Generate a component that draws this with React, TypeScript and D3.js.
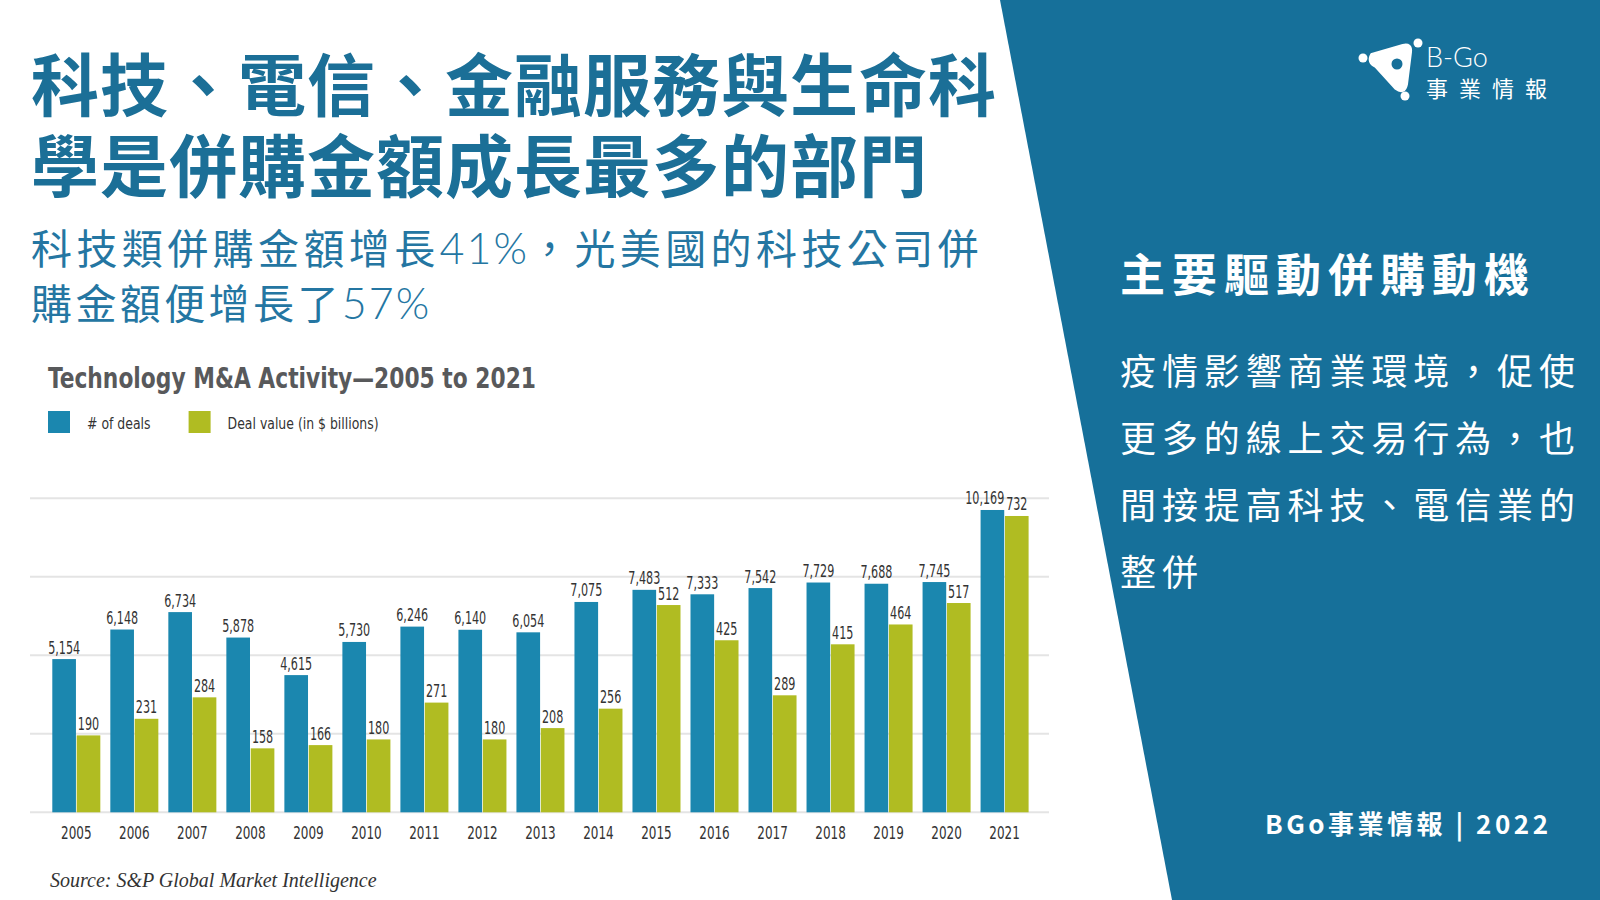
import React from "react";
import * as d3 from "d3";

const years = ["2005","2006","2007","2008","2009","2010","2011","2012","2013","2014","2015","2016","2017","2018","2019","2020","2021"];
const deals = [5154, 6148, 6734, 5878, 4615, 5730, 6246, 6140, 6054, 7075, 7483, 7333, 7542, 7729, 7688, 7745, 10169];
const values = [190, 231, 284, 158, 166, 180, 271, 180, 208, 256, 512, 425, 289, 415, 464, 517, 732];
const seriesKeys = ["deals", "value"];
const seriesNames = ["# of deals", "Deal value (in $ billions)"];
const seriesColors = ["#1b87af", "#b0bc22"];
const gridSteps = [0, 1, 2, 3, 4];

const titleLines = ["科技、電信、金融服務與生命科", "學是併購金額成長最多的部門"];
const subtitleLines = [["科技類併購金額增長", "41%", "，光美國的科技公司併"], ["購金額便增長了", "57%", ""]];
const panelHeading = "主要驅動併購動機";
const panelLines = ["疫情影響商業環境，促使", "更多的線上交易行為，也", "間接提高科技、電信業的", "整併"];
const chartTitle = "Technology M&A Activity\u20142005 to 2021";
const sourceText = "Source: S&P Global Market Intelligence";
const footerText = "BGo事業情報 | 2022";

const CJK = "'Noto Sans CJK TC', 'Noto Sans CJK SC', sans-serif";
const NARROW = "'Liberation Sans Narrow', 'DejaVu Sans Condensed', 'DejaVu Sans', sans-serif";

function NText({ x, y, sx, anchor, size, weight, fill, children }: any) {
  return (
    <text transform={`translate(${x},${y}) scale(${sx},1)`} textAnchor={anchor || "start"} fill={fill || "#333"}
      fontFamily={NARROW} fontSize={size} fontWeight={weight || 400} style={{ fontStretch: "condensed" }}>{children}</text>
  );
}

export default function App() {
  const W = 1600, H = 900;
  const baseY = 812.3, topY = 498.3;
  const x = d3.scaleBand<string>().domain(years).range([47.3, 1033.6]).paddingInner(0.1724).paddingOuter(0.0862);
  const xs = d3.scaleBand<string>().domain(seriesKeys).range([0, x.bandwidth()]).paddingInner(0.03);
  const yDeals = d3.scaleLinear().domain([0, 10562]).range([baseY, topY]);
  const yValue = d3.scaleLinear().domain([0, 775.7]).range([baseY, topY]);
  const yGrid = d3.scaleLinear().domain([0, 4]).range([baseY, topY]);
  const fmt = d3.format(",");

  const panelColor = "#16709a";
  const titleColor = "#1b6f97";

  return (
    <div style={{ position: "fixed", left: 0, top: 0, width: W, height: H }}>
      <svg width={W} height={H} viewBox={`0 0 ${W} ${H}`} style={{ display: "block", background: "#ffffff" }}>
        {/* Right panel */}
        <path d={`M1000,0 L${W},0 L${W},${H} L1172,${H} Z`} fill={panelColor} />

        {/* Title */}
        <text fill={titleColor} fontFamily={CJK} fontWeight={700} fontSize={68} letterSpacing={1}>
          {titleLines.map((t, i) => (
            <tspan key={t} x={31} y={111 + i * 81}>{t}</tspan>
          ))}
        </text>
        {subtitleLines.map((parts, i) => (
          <text key={i} x={31} y={264 + i * 55} fill="#2476a2" fontFamily={CJK} fontWeight={400} fontSize={41} letterSpacing={i === 0 ? 4.4 : 3.4}>
            <tspan>{parts[0]}</tspan>
            <tspan fontFamily="'Lato', 'Open Sans', sans-serif" fontWeight={300} fontSize={43} letterSpacing={2}>{parts[1]}</tspan>
            <tspan>{parts[2]}</tspan>
          </text>
        ))}

        {/* Chart title & legend */}
        <text x={48} y={388} fill="#58595b" fontFamily={NARROW} fontWeight={700} fontSize={29} textLength={488} lengthAdjust="spacingAndGlyphs" style={{ fontStretch: "condensed" }}>{chartTitle}</text>
        {seriesNames.map((n, i) => {
          const lx = [48, 188.6][i];
          return (
            <g key={n}>
              <rect x={lx} y={411} width={22} height={22} fill={seriesColors[i]} />
              <NText x={lx + 39} y={429} sx={0.84} size={16.5}>{n}</NText>
            </g>
          );
        })}

        {/* Gridlines */}
        {gridSteps.map((g) => (
          <line key={g} x1={30} x2={1049} y1={yGrid(g)} y2={yGrid(g)} stroke="#e4e4e4" strokeWidth={2} />
        ))}

        {/* Bars */}
        {years.map((yr, i) => {
          const gx = x(yr) as number;
          const bx0 = gx + (xs("deals") as number);
          const bx1 = gx + (xs("value") as number);
          const bw = xs.bandwidth();
          const d = deals[i], v = values[i];
          const big = d >= 10000;
          return (
            <g key={yr}>
              <rect x={bx0} y={yDeals(d)} width={bw} height={baseY - yDeals(d)} fill={seriesColors[0]} />
              <rect x={bx1} y={yValue(v)} width={bw} height={baseY - yValue(v)} fill={seriesColors[1]} />
              <NText x={big ? bx0 + bw : bx0 + bw / 2} y={yDeals(d) - 5.5} anchor={big ? "end" : "middle"} sx={0.73} size={17}>{fmt(d)}</NText>
              <NText x={bx1 + bw / 2} y={yValue(v) - 5.5} anchor="middle" sx={0.73} size={17}>{v}</NText>
              <NText x={gx + x.bandwidth() / 2} y={839} anchor="middle" sx={0.72} size={18.5}>{yr}</NText>
            </g>
          );
        })}

        {/* Source */}
        <text x={50} y={887} fill="#333" fontFamily="'Liberation Serif', 'DejaVu Serif', serif" fontStyle="italic" fontSize={20}>{sourceText}</text>

        {/* Panel text */}
        <text x={1120} y={292} fill="#ffffff" fontFamily={CJK} fontWeight={700} fontSize={45} letterSpacing={7}>{panelHeading}</text>
        {panelLines.map((t, i) => (
          <text key={i} x={1120} y={385 + i * 67} fill="#ffffff" fontFamily={CJK} fontWeight={400} fontSize={36} letterSpacing={5.9}>{t}</text>
        ))}
        <text x={1265} y={834} fill="#ffffff" fontFamily={CJK} fontWeight={700} fontSize={26} letterSpacing={3.5}>{footerText}</text>

        {/* Logo */}
        <g fill="#ffffff">
          <circle cx={1363} cy={58} r={4.5} />
          <circle cx={1418} cy={43} r={4.5} />
          <circle cx={1405} cy={96} r={4.5} />
          <path d="M1372,55 Q1368,62 1376,66 L1396,88 Q1404,94 1406,84 L1410,52 Q1411,44 1403,46 Z" stroke="#ffffff" strokeWidth={4} strokeLinejoin="round" />
          <circle cx={1397} cy={64} r={7} fill={panelColor} stroke="#ffffff" strokeWidth={3} />
          <text x={1426} y={67} fontFamily="'Lato', 'Open Sans', sans-serif" fontWeight={300} fontSize={27}>B-Go</text>
          <text x={1426} y={97} fontFamily={CJK} fontWeight={400} fontSize={22} letterSpacing={11}>事業情報</text>
        </g>
      </svg>
    </div>
  );
}
